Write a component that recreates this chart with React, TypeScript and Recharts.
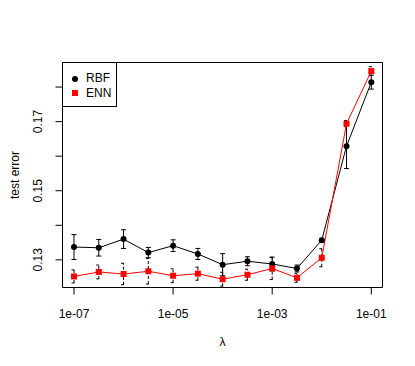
import React from 'react'
import { LineChart, Line, XAxis, YAxis, ErrorBar, ReferenceArea } from 'recharts'

// regularisation values (half-decade steps)
const lambdas = [1e-7, 3.162e-7, 1e-6, 3.162e-6, 1e-5, 3.162e-5, 1e-4, 3.162e-4, 1e-3, 3.162e-3, 1e-2, 3.162e-2, 1e-1]
const rbfError = [0.1337, 0.1335, 0.136, 0.1321, 0.1341, 0.1317, 0.1286, 0.1296, 0.1288, 0.1275, 0.1357, 0.1629, 0.1814]
const rbfSd = [0.0036, 0.0024, 0.0027, 0.0015, 0.0017, 0.0016, 0.0032, 0.0013, 0.002, 0.001, 0.0005, 0.0065, 0.002]
const ennError = [0.1252, 0.1265, 0.1259, 0.1267, 0.1254, 0.126, 0.1244, 0.1257, 0.1275, 0.1248, 0.1306, 0.1694, 0.1846]
const ennSd = [0.0019, 0.002, 0.0031, 0.0037, 0.002, 0.0019, 0.002, 0.0016, 0.0032, 0.0013, 0.0026, 0.0009, 0.0013]

const xTicks = [1e-7, 1e-5, 1e-3, 1e-1]
const xTickLabels = ['1e-07', '1e-05', '1e-03', '1e-01']
const yTicks = [0.13, 0.14, 0.15, 0.16, 0.17, 0.18]
const yTickLabels = ['0.13', '', '0.15', '', '0.17', '']

const xDomain = [5.86e-8, 0.1683]
const yDomain = [0.122, 0.1871]

const data = lambdas.map((lambda, i) => ({
  lambda,
  rbf: rbfError[i],
  rbfSd: rbfSd[i],
  enn: ennError[i],
  ennSd: ennSd[i],
}))

const FONT = '"Liberation Sans", Arial, Helvetica, sans-serif'

const XTick = (props: any) => {
  const i = xTicks.findIndex(t => Math.abs(Math.log10(t) - Math.log10(props.payload.value)) < 1e-6)
  return (
    <text x={props.x} y={props.y + 21} textAnchor="middle" fontSize={12} fontFamily={FONT} fill="#000">
      {i >= 0 ? xTickLabels[i] : ''}
    </text>
  )
}

const YTick = (props: any) => {
  const i = yTicks.findIndex(t => Math.abs(t - props.payload.value) < 1e-6)
  const label = i >= 0 ? yTickLabels[i] : ''
  const x = props.x - 11
  return (
    <text
      x={x}
      y={props.y}
      transform={`rotate(-90 ${x} ${props.y})`}
      textAnchor="middle"
      fontSize={12}
      fontFamily={FONT}
      fill="#000"
    >
      {label}
    </text>
  )
}

const RbfDot = (props: any) => <circle key={`r${props.index}`} cx={props.cx} cy={props.cy} r={3} fill="#000" />
const EnnDot = (props: any) => (
  <rect key={`e${props.index}`} x={props.cx - 3} y={props.cy - 3} width={6} height={6} fill="#ff0000" />
)

export default function App() {
  return (
    <div style={{ position: 'absolute', left: 0, top: 0, width: 415, height: 366, background: '#fff', fontFamily: FONT }}>
      <LineChart width={415} height={366} data={data} margin={{ top: 62.5, right: 32.5, bottom: 48.5, left: 32.5 }}>
        <XAxis
          dataKey="lambda"
          type="number"
          scale="log"
          domain={xDomain}
          allowDataOverflow
          ticks={xTicks}
          tick={<XTick />}
          tickSize={7}
          tickLine={{ stroke: '#000' }}
          axisLine={false}
          height={30}
          interval={0}
        />
        <YAxis
          type="number"
          domain={yDomain}
          allowDataOverflow
          ticks={yTicks}
          tick={<YTick />}
          tickSize={7}
          tickLine={{ stroke: '#000' }}
          axisLine={false}
          width={30}
          interval={0}
        />
        <ReferenceArea
          x1={xDomain[0]}
          x2={xDomain[1]}
          y1={yDomain[0]}
          y2={yDomain[1]}
          fill="none"
          stroke="#000"
          strokeWidth={1}
          ifOverflow="visible"
        />
        <Line dataKey="rbf" stroke="#000" strokeWidth={1} dot={RbfDot} activeDot={false} isAnimationActive={false}>
          <ErrorBar dataKey="rbfSd" direction="y" width={2.5} stroke="#000" strokeWidth={1} />
        </Line>
        <Line dataKey="enn" stroke="#ff0000" strokeWidth={1} dot={EnnDot} activeDot={false} isAnimationActive={false}>
          <ErrorBar dataKey="ennSd" direction="y" width={2.5} stroke="#000" strokeWidth={1} strokeDasharray="3 2" />
        </Line>
      </LineChart>
      <div style={{ position: 'absolute', left: 62, top: 62, width: 55, height: 45, border: '1px solid #000', boxSizing: 'border-box', background: '#fff' }}>
        <svg width={14} height={40} style={{ position: 'absolute', left: 5, top: 9 }}>
          <circle cx={7} cy={7} r={3} fill="#000" />
          <rect x={4} y={18} width={6} height={6} fill="#ff0000" />
        </svg>
        <div style={{ position: 'absolute', left: 23, top: 8, fontSize: 12, lineHeight: '15px' }}>RBF</div>
        <div style={{ position: 'absolute', left: 23, top: 23, fontSize: 12, lineHeight: '15px' }}>ENN</div>
      </div>
      <div style={{ position: 'absolute', left: 222.5, top: 342, transform: 'translate(-50%, -50%)', fontSize: 12 }}>λ</div>
      <div
        style={{
          position: 'absolute',
          left: 15,
          top: 175,
          transform: 'translate(-50%, -50%) rotate(-90deg)',
          fontSize: 12,
          whiteSpace: 'nowrap',
        }}
      >
        test error
      </div>
    </div>
  )
}
